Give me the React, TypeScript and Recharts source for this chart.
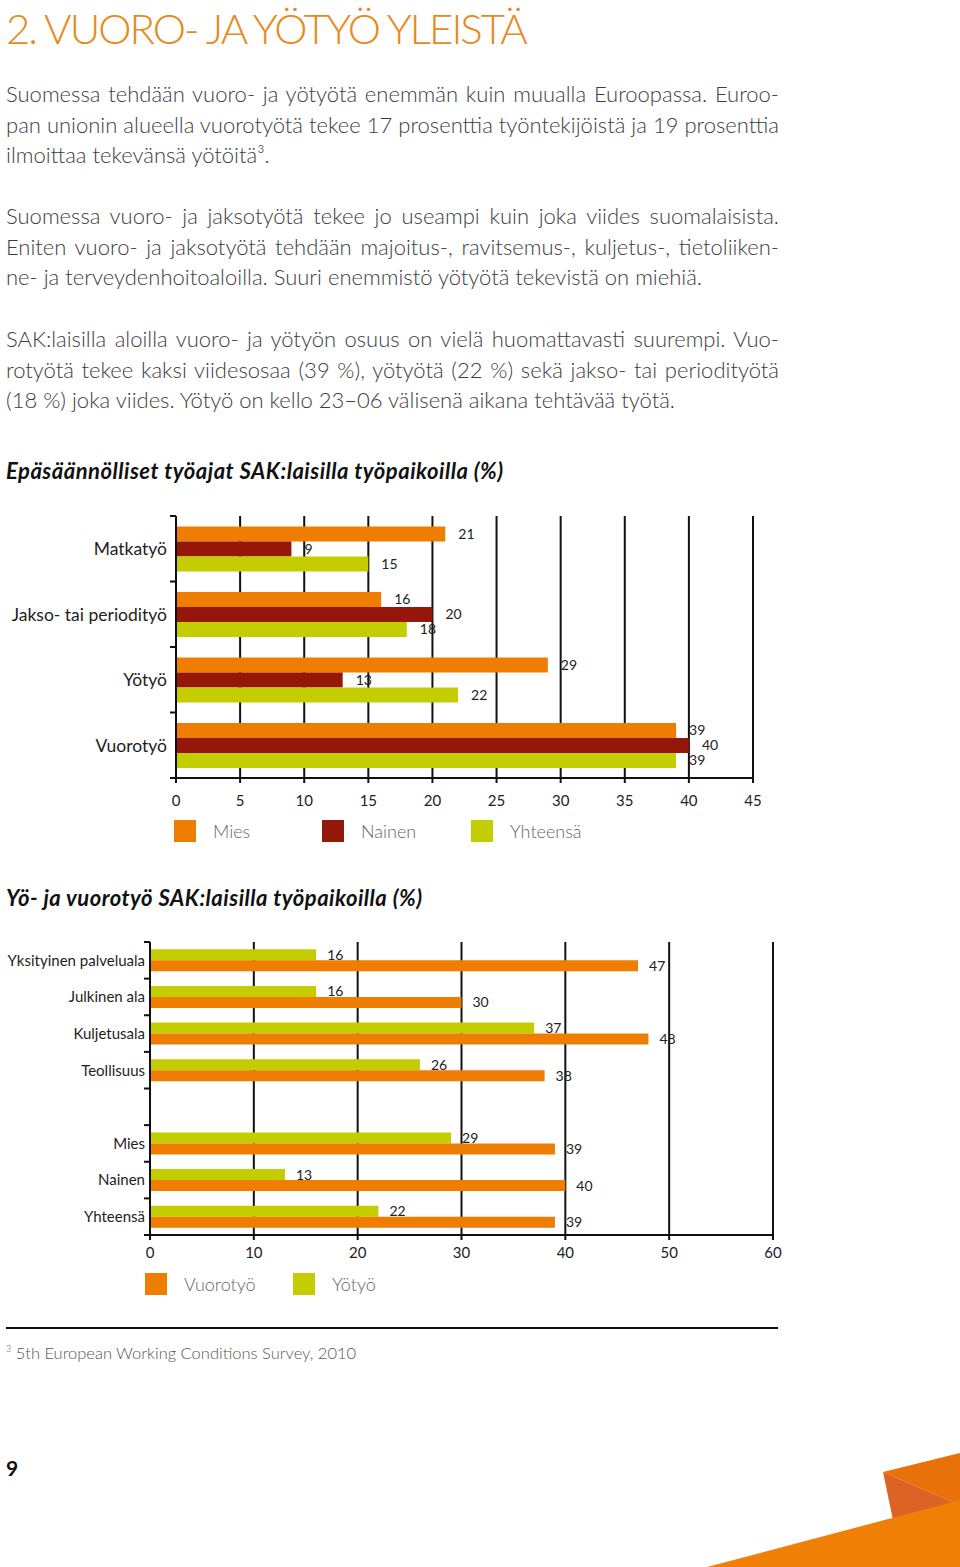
import React from 'react';
import { Bar, BarChart, CartesianGrid, LabelList, XAxis, YAxis } from 'recharts';

// colours from the printed page
const orange = '#EE7D00';
const darkRed = '#94170A';
const lime = '#C3CD00';
const titleOrange = '#E8891C';
const textGray = '#3d3d3d';
const font = 'Lato, "Noto Sans", sans-serif';

// chart 1: Epäsäännölliset työajat
const workTypes = ['Matkatyö', 'Jakso- tai periodityö', 'Yötyö', 'Vuorotyö'];
const miesValues = [21, 16, 29, 39];
const nainenValues = [9, 20, 13, 40];
const yhteensaValues = [15, 18, 22, 39];
const chart1Ticks = [0, 5, 10, 15, 20, 25, 30, 35, 40, 45];
const chart1Series = ['Mies', 'Nainen', 'Yhteensä'];

// chart 2: Yö- ja vuorotyö (blank row separates sectors from gender)
const sectors = ['Yksityinen palveluala', 'Julkinen ala', 'Kuljetusala', 'Teollisuus', '', 'Mies', 'Nainen', 'Yhteensä'];
const yotyoValues = [16, 16, 37, 26, null, 29, 13, 22];
const vuorotyoValues = [47, 30, 48, 38, null, 39, 40, 39];
const chart2Ticks = [0, 10, 20, 30, 40, 50, 60];
const chart2Series = ['Vuorotyö', 'Yötyö'];

const title = '2. VUORO- JA YÖTYÖ YLEISTÄ';
const paragraphs = [
  [
    'Suomessa tehdään vuoro- ja yötyötä enemmän kuin muualla Euroopassa. Euroo-',
    'pan unionin alueella vuorotyötä tekee 17 prosenttia työntekijöistä ja 19 prosenttia',
    'ilmoittaa tekevänsä yötöitä³.',
  ],
  [
    'Suomessa vuoro- ja jaksotyötä tekee jo useampi kuin joka viides suomalaisista.',
    'Eniten vuoro- ja jaksotyötä tehdään majoitus-, ravitsemus-, kuljetus-, tietoliiken-',
    'ne- ja terveydenhoitoaloilla. Suuri enemmistö yötyötä tekevistä on miehiä.',
  ],
  [
    'SAK:laisilla aloilla vuoro- ja yötyön osuus on vielä huomattavasti suurempi. Vuo-',
    'rotyötä tekee kaksi viidesosaa (39 %), yötyötä (22 %) sekä jakso- tai periodityötä',
    '(18 %) joka viides. Yötyö on kello 23–06 välisenä aikana tehtävää työtä.',
  ],
];
const paragraphTops = [79, 201, 324];

const chart1Data = workTypes.map((name, i) => ({
  name,
  mies: miesValues[i],
  nainen: nainenValues[i],
  yhteensa: yhteensaValues[i],
}));

const chart2Data = sectors.map((name, i) => ({
  name,
  yotyo: yotyoValues[i],
  vuorotyo: vuorotyoValues[i],
}));

function CategoryTick(props: any) {
  const { x, y, payload, index, band, count, fontSize, gap } = props;
  const axisX = x + gap;
  return (
    <g>
      <line x1={axisX - 6} x2={axisX} y1={y - band / 2} y2={y - band / 2} stroke="#111" strokeWidth={2} />
      {index === count - 1 && (
        <line x1={axisX - 6} x2={axisX} y1={y + band / 2} y2={y + band / 2} stroke="#111" strokeWidth={2} />
      )}
      <text x={x} y={y} dy="0.36em" textAnchor="end" fontSize={fontSize} fill="#1e1e1e" fontFamily={font}>
        {payload.value}
      </text>
    </g>
  );
}

const labelStyle = { fontSize: 14, fill: '#222', fontFamily: font };
const axisTick = { fontSize: 15, fill: '#222', fontFamily: font };

function LegendRow({ items, colors, top, left, gap }: { items: string[]; colors: string[]; top: number; left: number[]; gap: number }) {
  return (
    <>
      {items.map((item, i) => (
        <div key={item} style={{ position: 'absolute', top, left: left[i], display: 'flex', alignItems: 'center' }}>
          <div style={{ width: 22, height: 22, background: colors[i] }} />
          <span style={{ marginLeft: gap, fontSize: 18, color: '#666', fontFamily: font, fontWeight: 300 }}>{item}</span>
        </div>
      ))}
    </>
  );
}

const chartTitleStyle: React.CSSProperties = {
  position: 'absolute',
  left: 6,
  fontSize: 22,
  lineHeight: '22px',
  letterSpacing: 0.5,
  fontWeight: 700,
  fontStyle: 'italic',
  color: '#111',
  whiteSpace: 'nowrap',
};

export default function App() {
  const plot1Height = 262;
  const plot2Height = 293;
  return (
    <div style={{ position: 'absolute', left: 0, top: 0, width: 960, height: 1567, overflow: 'hidden', background: '#fff', fontFamily: font }}>
      <div style={{ position: 'absolute', left: 6, top: 7, fontSize: 42, lineHeight: '42px', letterSpacing: -2, color: titleOrange, fontWeight: 300, whiteSpace: 'nowrap' }}>
        {title}
      </div>

      {/* justified body text, lines broken as in print */}
      {paragraphs.map((lines, p) => (
        <div key={p} style={{ position: 'absolute', left: 6, top: paragraphTops[p], width: 773, fontSize: 22, lineHeight: '30.7px', color: textGray, fontWeight: 300 }}>
          {lines.map((l, i) => (
            <div key={l} style={{ whiteSpace: 'nowrap', textAlign: 'justify', textAlignLast: i < lines.length - 1 ? 'justify' : 'left' }}>
              {l}
            </div>
          ))}
        </div>
      ))}

      <div style={{ ...chartTitleStyle, top: 460 }}>Epäsäännölliset työajat SAK:laisilla työpaikoilla (%)</div>

      <div style={{ position: 'absolute', left: 0, top: 500 }}>
        <BarChart
          width={800}
          height={330}
          layout="vertical"
          data={chart1Data}
          margin={{ top: 16, right: 47, bottom: 0, left: 0 }}
          barCategoryGap="16%"
          barGap={0}
        >
          <CartesianGrid horizontal={false} stroke="#111" strokeWidth={2} />
          <XAxis
            type="number"
            domain={[0, 45]}
            ticks={chart1Ticks}
            height={52}
            tick={axisTick}
            tickSize={5}
            tickMargin={12}
            axisLine={{ stroke: '#111', strokeWidth: 2 }}
            tickLine={{ stroke: '#111', strokeWidth: 2 }}
          />
          <YAxis
            type="category"
            dataKey="name"
            width={176}
            tickSize={0}
            tickMargin={9}
            axisLine={{ stroke: '#111', strokeWidth: 2 }}
            tick={<CategoryTick band={plot1Height / workTypes.length} count={workTypes.length} fontSize={17.5} gap={9} />}
          />
          <Bar dataKey="mies" name={chart1Series[0]} fill={orange} isAnimationActive={false}>
            <LabelList dataKey="mies" position="right" offset={13} style={labelStyle} />
          </Bar>
          <Bar dataKey="nainen" name={chart1Series[1]} fill={darkRed} isAnimationActive={false}>
            <LabelList dataKey="nainen" position="right" offset={13} style={labelStyle} />
          </Bar>
          <Bar dataKey="yhteensa" name={chart1Series[2]} fill={lime} isAnimationActive={false}>
            <LabelList dataKey="yhteensa" position="right" offset={13} style={labelStyle} />
          </Bar>
        </BarChart>
      </div>

      <LegendRow items={chart1Series} colors={[orange, darkRed, lime]} top={820} left={[174, 322, 471]} gap={17} />

      <div style={{ ...chartTitleStyle, top: 887 }}>Yö- ja vuorotyö SAK:laisilla työpaikoilla (%)</div>

      <div style={{ position: 'absolute', left: 0, top: 930 }}>
        <BarChart
          width={820}
          height={340}
          layout="vertical"
          data={chart2Data}
          margin={{ top: 12, right: 47, bottom: 0, left: 0 }}
          barCategoryGap="20%"
          barGap={0}
        >
          <CartesianGrid horizontal={false} stroke="#111" strokeWidth={2} />
          <XAxis
            type="number"
            domain={[0, 60]}
            ticks={chart2Ticks}
            height={35}
            tick={axisTick}
            tickSize={5}
            tickMargin={7}
            axisLine={{ stroke: '#111', strokeWidth: 2 }}
            tickLine={{ stroke: '#111', strokeWidth: 2 }}
          />
          <YAxis
            type="category"
            dataKey="name"
            width={150}
            tickSize={0}
            tickMargin={5}
            axisLine={{ stroke: '#111', strokeWidth: 2 }}
            tick={<CategoryTick band={plot2Height / sectors.length} count={sectors.length} fontSize={15} gap={5} />}
          />
          <Bar dataKey="yotyo" name={chart2Series[1]} fill={lime} isAnimationActive={false}>
            <LabelList dataKey="yotyo" position="right" offset={11} style={labelStyle} />
          </Bar>
          <Bar dataKey="vuorotyo" name={chart2Series[0]} fill={orange} isAnimationActive={false}>
            <LabelList dataKey="vuorotyo" position="right" offset={11} style={labelStyle} />
          </Bar>
        </BarChart>
      </div>

      <LegendRow items={chart2Series} colors={[orange, lime]} top={1273} left={[145, 293]} gap={17} />

      <div style={{ position: 'absolute', left: 6, top: 1327, width: 772, height: 2, background: '#111' }} />
      <div style={{ position: 'absolute', left: 6, top: 1341, fontSize: 16.5, lineHeight: '16px', color: '#555', fontWeight: 300, whiteSpace: 'nowrap' }}>
        <sup style={{ fontSize: 9 }}>3</sup> 5th European Working Conditions Survey, 2010
      </div>

      <div style={{ position: 'absolute', left: 6, top: 1457, fontSize: 21, lineHeight: '21px', fontWeight: 700, color: '#111' }}>9</div>

      <svg style={{ position: 'absolute', left: 0, top: 0 }} width={960} height={1567}>
        <polygon points="883,1472 960,1453 960,1505" fill="#E8710A" />
        <polygon points="883,1472 960,1505 893,1520" fill="#DC6323" />
        <polygon points="707,1567 960,1500 960,1567" fill="#F07F06" />
      </svg>
    </div>
  );
}
